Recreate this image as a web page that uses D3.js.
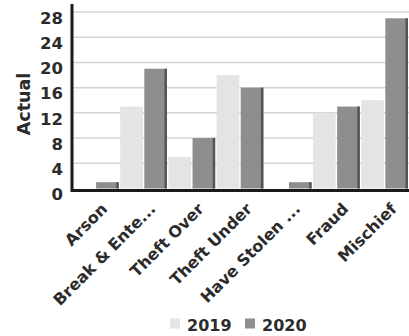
<!DOCTYPE html>
<html>
<head>
<meta charset="utf-8">
<script src="https://cdn.jsdelivr.net/npm/d3@7/dist/d3.min.js"></script>
<style>
  html, body { margin: 0; padding: 0; background: #fff; }
  svg { display: block; }
  text { font-family: "DejaVu Sans", Verdana, sans-serif; font-weight: bold; fill: #2b2b2b; }
</style>
</head>
<body>
<svg id="chart" width="409" height="336"></svg>
<script>
// Offence counts by category, 2019 vs 2020
const categories = ["Arson", "Break & Ente...", "Theft Over", "Theft Under", "Have Stolen ...", "Fraud", "Mischief"];
const seriesNames = ["2019", "2020"];
const values2019 = [0, 13, 5, 18, 0, 12, 14];
const values2020 = [1, 19, 8, 16, 1, 13, 27];
const yTicks = [0, 4, 8, 12, 16, 20, 24, 28];

const colors = { "2019": "#e4e4e4", "2020": "#8e8e8e" };
const edgeColor = "#555";

const rows = categories.map((c, i) => ({ category: c, "2019": values2019[i], "2020": values2020[i] }));

const svg = d3.select("#chart");
const plotLeft = 72, plotRight = 409, plotTop = 12, plotBottom = 188.5;

const x0 = d3.scaleBand().domain(categories).range([plotLeft, plotRight - 1]).paddingInner(0.03).paddingOuter(0.0);
const x1 = d3.scaleBand().domain(seriesNames).range([0, x0.bandwidth()]).paddingInner(0.06);
const y = d3.scaleLinear().domain([0, 28]).range([plotBottom, plotTop]);

// gridlines
svg.append("g").selectAll("line").data(yTicks.filter(t => t > 0)).join("line")
  .attr("x1", plotLeft).attr("x2", plotRight)
  .attr("y1", d => y(d)).attr("y2", d => y(d))
  .attr("stroke", "#d4d4d4").attr("stroke-width", 1.5);

// bars
const groups = svg.append("g").selectAll("g").data(rows).join("g")
  .attr("transform", d => `translate(${x0(d.category)},0)`);

groups.selectAll("rect.bar").data(d => seriesNames.map(k => ({ key: k, value: d[k] }))).join("rect")
  .attr("class", "bar")
  .attr("x", d => x1(d.key))
  .attr("width", x1.bandwidth())
  .attr("y", d => y(d.value))
  .attr("height", d => y(0) - y(d.value))
  .attr("fill", d => colors[d.key]);

// darker right edge on the 2020 bars
groups.selectAll("rect.edge").data(d => [{ key: "2020", value: d["2020"] }]).join("rect")
  .attr("class", "edge")
  .attr("x", d => x1(d.key) + x1.bandwidth() - 2.5)
  .attr("width", 2.5)
  .attr("y", d => y(d.value))
  .attr("height", d => y(0) - y(d.value))
  .attr("fill", edgeColor);

// axis lines
svg.append("line").attr("x1", plotLeft).attr("x2", plotRight).attr("y1", y(0) + 2).attr("y2", y(0) + 2)
  .attr("stroke", "#1a1a1a").attr("stroke-width", 3);
svg.append("line").attr("x1", plotLeft).attr("x2", plotLeft).attr("y1", 4).attr("y2", y(0) + 3.5)
  .attr("stroke", "#1a1a1a").attr("stroke-width", 3);

// y tick labels
const yAxis = d3.axisLeft(y).tickValues(yTicks).tickSize(0).tickPadding(9);
const ya = svg.append("g").attr("transform", `translate(${plotLeft},6)`).call(yAxis);
ya.select(".domain").remove();
ya.selectAll("text").attr("font-size", 16.5).attr("font-family", "DejaVu Sans").attr("font-weight", "bold").attr("fill", "#2b2b2b");

// y title
svg.append("text")
  .attr("transform", "translate(30,104) rotate(-90)")
  .attr("text-anchor", "middle")
  .attr("font-size", 17.5)
  .text("Actual");

// x labels
svg.append("g").selectAll("text").data(categories).join("text")
  .attr("transform", d => `translate(${x0(d) + x0.bandwidth() / 2 + 13},210) rotate(-45)`)
  .attr("text-anchor", "end")
  .attr("font-size", 16)
  .text(d => d);

// legend
const legend = svg.append("g").attr("transform", "translate(0,331)");
const legendX = { "2019": 170, "2020": 245 };
seriesNames.forEach(k => {
  legend.append("rect").attr("x", legendX[k]).attr("y", -12.5).attr("width", 10).attr("height", 10)
    .attr("fill", colors[k]);
  legend.append("text").attr("x", legendX[k] + 17).attr("y", 0).attr("font-size", 16).text(k);
});
</script>
</body>
</html>
